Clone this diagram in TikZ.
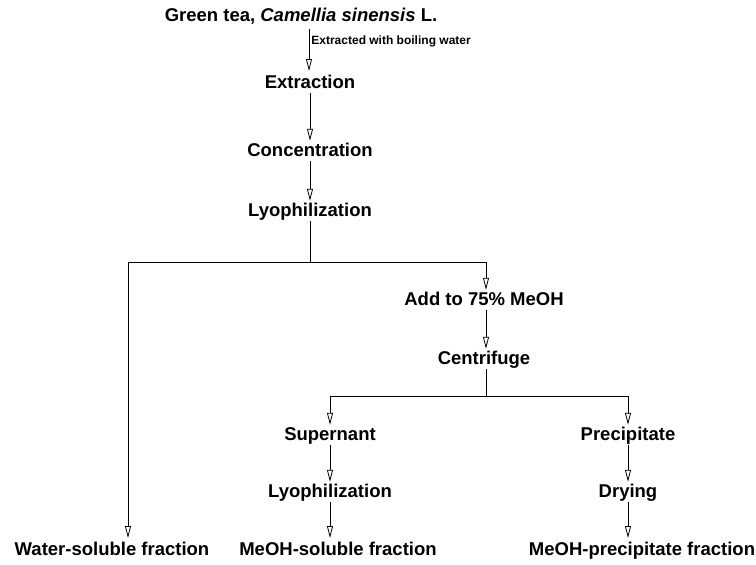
\documentclass[tikz,border=0pt]{standalone}
\usepackage{fontspec}
\setmainfont{Liberation Sans}
\usetikzlibrary{arrows.meta}
\begin{document}
\begin{tikzpicture}[x=1pt,y=-1pt,
  lbl/.style={font=\fontsize{18.5}{21}\selectfont\bfseries, inner sep=1.5pt, text height=13.5pt, text depth=3.5pt},
  small/.style={font=\fontsize{12}{14}\selectfont\bfseries, inner sep=1pt, anchor=west},
  flow/.style={line width=0.8pt, -{Triangle[open,length=12pt,width=6pt,line width=0.8pt]}},
  ln/.style={line width=0.8pt}]
\useasboundingbox (0,0) rectangle (756,565);
\node[lbl] (tea) at (301,16) {Green tea, \textit{Camellia sinensis} L.};
\node[lbl] (ext) at (310,83) {Extraction};
\node[lbl] (conc) at (310,151) {Concentration};
\node[lbl] (lyo) at (310,211) {Lyophilization};
\node[lbl] (add) at (484,300) {Add to 75\% MeOH};
\node[lbl] (cen) at (484,359) {Centrifuge};
\node[lbl] (sup) at (330,435) {Supernant};
\node[lbl] (pre) at (628,435) {Precipitate};
\node[lbl] (lyo2) at (330,492) {Lyophilization};
\node[lbl] (dry) at (628,492) {Drying};
\node[lbl] (ws) at (112,550) {Water-soluble fraction};
\node[lbl] (ms) at (338,550) {MeOH-soluble fraction};
\node[lbl] (mp) at (642,550) {MeOH-precipitate fraction};
\coordinate (s0) at (309,29);
\coordinate (e0) at (309,71);
\coordinate (b1) at (310,262);
\coordinate (b1l) at (128,262);
\coordinate (b1r) at (486,262);
\coordinate (e1) at (128,538);
\coordinate (b2) at (486,396);
\coordinate (b2l) at (330,396);
\coordinate (b2r) at (628,396);
\coordinate (e2) at (330,538);
\coordinate (e3) at (628,538);
\draw[flow] (s0) -- node[small, pos=0.3, xshift=1pt] {Extracted with boiling water} (e0);
\draw[flow] (ext) -- (conc);
\draw[flow] (conc) -- (lyo);
\draw[ln] (lyo) -- (b1);
\draw[ln] (b1l) -- (b1r);
\draw[flow] (b1l) -- (e1);
\draw[flow] (b1r) -- (b1r |- add.north);
\draw[flow] (add.south -| b1r) -- (b1r |- cen.north);
\draw[ln] (cen.south -| b2) -- (b2);
\draw[ln] (b2l) -- (b2r);
\draw[flow] (b2l) -- (sup);
\draw[flow] (b2r) -- (pre);
\draw[flow] (sup) -- (lyo2);
\draw[flow] (pre) -- (dry);
\draw[flow] (lyo2) -- (e2);
\draw[flow] (dry) -- (e3);
\end{tikzpicture}
\end{document}
